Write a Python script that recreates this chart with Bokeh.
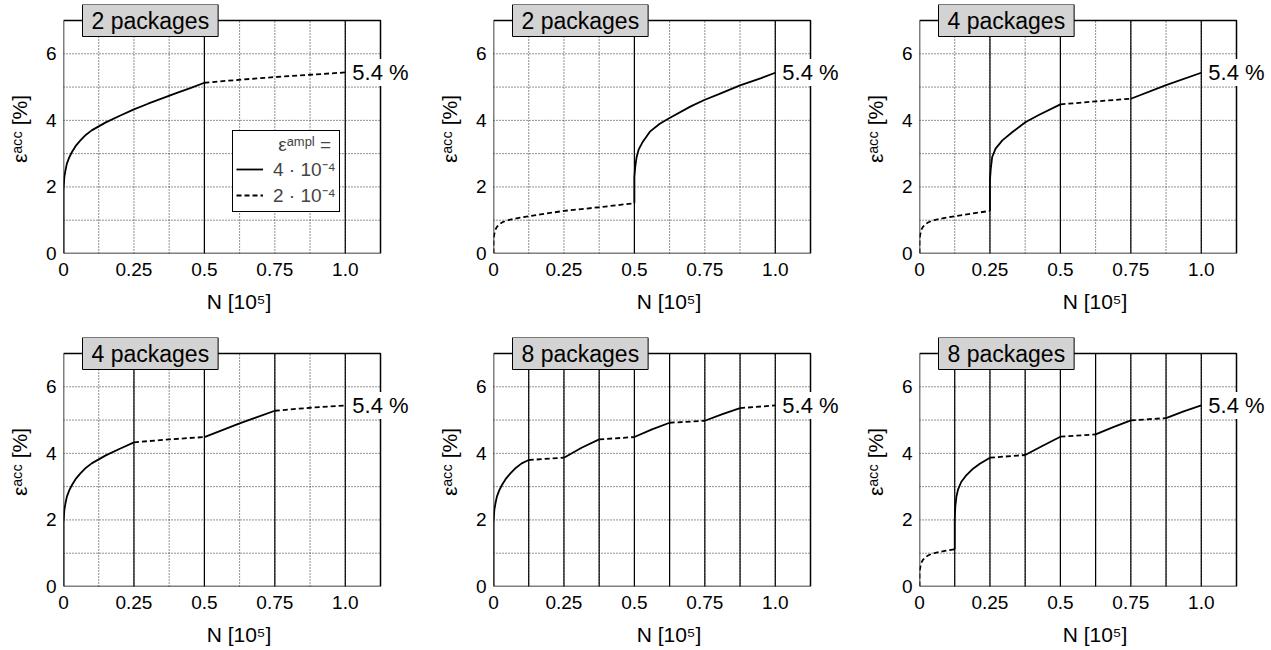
from bokeh.plotting import figure
from bokeh.layouts import column, row
from bokeh.models import Range1d, FixedTicker, Label, Legend, LegendItem, BoxAnnotation
from bokeh.embed import file_html
from bokeh.resources import INLINE

FONT = "Liberation Sans"

# ---------------- data ----------------
x_tick_values = [0, 0.25, 0.5, 0.75, 1.0]
x_tick_labels = ["0", "0.25", "0.5", "0.75", "1.0"]
y_tick_values = [0, 2, 4, 6]
x_max, y_max = 1.125, 7.0
end_label = "5.4 %"
end_n = 1.0
end_e = 5.44

# panel 1: 2 packages (high amplitude first)
p1_a_n = [0.0, 0.0, 0.003, 0.007, 0.012, 0.02, 0.03, 0.045, 0.06, 0.08, 0.1, 0.125, 0.15, 0.2, 0.25, 0.3, 0.35, 0.4, 0.45, 0.5]
p1_a_e = [0.0, 1.9, 2.3, 2.5, 2.7, 2.88, 3.05, 3.25, 3.4, 3.57, 3.7, 3.82, 3.94, 4.14, 4.33, 4.5, 4.66, 4.82, 4.97, 5.13]
p1_b_n = [0.5, 0.625, 0.75, 0.875, 1.0]
p1_b_e = [5.13, 5.22, 5.3, 5.37, 5.44]

# panel 2: 2 packages (low amplitude first)
p2_a_n = [0.0, 0.0, 0.002, 0.006, 0.012, 0.02, 0.03, 0.04, 0.06, 0.09, 0.125, 0.25, 0.375, 0.5]
p2_a_e = [0.0, 0.4, 0.55, 0.7, 0.8, 0.87, 0.93, 0.97, 1.02, 1.07, 1.12, 1.28, 1.39, 1.51]
p2_b_n = [0.5, 0.5, 0.503, 0.508, 0.515, 0.53, 0.555, 0.59, 0.625, 0.7, 0.75, 0.8, 0.875, 0.95, 1.0]
p2_b_e = [1.51, 2.3, 2.6, 2.9, 3.12, 3.36, 3.66, 3.9, 4.07, 4.42, 4.62, 4.79, 5.05, 5.27, 5.43]

# panel 3: 4 packages (low amplitude first)
p3_a_n = [0.0, 0.0, 0.002, 0.006, 0.012, 0.02, 0.03, 0.04, 0.06, 0.09, 0.125, 0.25]
p3_a_e = [0.0, 0.4, 0.55, 0.7, 0.8, 0.87, 0.93, 0.97, 1.02, 1.07, 1.12, 1.28]
p3_b_n = [0.25, 0.25, 0.253, 0.258, 0.27, 0.294, 0.33, 0.377, 0.425, 0.5]
p3_b_e = [1.28, 2.2, 2.55, 2.9, 3.15, 3.4, 3.65, 3.95, 4.17, 4.48]
p3_c_n = [0.5, 0.625, 0.75]
p3_c_e = [4.48, 4.57, 4.65]
p3_d_n = [0.75, 0.875, 1.0]
p3_d_e = [4.65, 5.06, 5.43]

# panel 4: 4 packages (high amplitude first)
p4_a_n = [0.0, 0.0, 0.003, 0.007, 0.012, 0.02, 0.03, 0.045, 0.06, 0.08, 0.1, 0.125, 0.15, 0.2, 0.25]
p4_a_e = [0.0, 1.9, 2.3, 2.5, 2.7, 2.88, 3.05, 3.25, 3.4, 3.57, 3.7, 3.82, 3.94, 4.14, 4.33]
p4_b_n = [0.25, 0.375, 0.5]
p4_b_e = [4.33, 4.42, 4.49]
p4_c_n = [0.5, 0.625, 0.75]
p4_c_e = [4.49, 4.9, 5.28]
p4_d_n = [0.75, 0.875, 1.0]
p4_d_e = [5.28, 5.37, 5.44]

# panel 5: 8 packages (high amplitude first)
p5_a_n = [0.0, 0.0, 0.003, 0.007, 0.012, 0.02, 0.03, 0.045, 0.06, 0.08, 0.1, 0.125]
p5_a_e = [0.0, 1.9, 2.3, 2.5, 2.7, 2.88, 3.05, 3.25, 3.4, 3.57, 3.7, 3.8]
p5_b_n = [0.125, 0.25]
p5_b_e = [3.8, 3.87]
p5_c_n = [0.25, 0.3125, 0.375]
p5_c_e = [3.87, 4.17, 4.42]
p5_d_n = [0.375, 0.5]
p5_d_e = [4.42, 4.49]
p5_e_n = [0.5, 0.5625, 0.625]
p5_e_e = [4.49, 4.72, 4.92]
p5_f_n = [0.625, 0.75]
p5_f_e = [4.92, 4.98]
p5_g_n = [0.75, 0.8125, 0.875]
p5_g_e = [4.98, 5.18, 5.36]
p5_h_n = [0.875, 1.0]
p5_h_e = [5.36, 5.44]

# panel 6: 8 packages (low amplitude first)
p6_a_n = [0.0, 0.0, 0.002, 0.006, 0.012, 0.02, 0.03, 0.04, 0.06, 0.09, 0.125]
p6_a_e = [0.0, 0.4, 0.55, 0.7, 0.8, 0.87, 0.93, 0.97, 1.02, 1.07, 1.12]
p6_b_n = [0.125, 0.125, 0.127, 0.131, 0.137, 0.148, 0.166, 0.19, 0.214, 0.25]
p6_b_e = [1.12, 2.0, 2.4, 2.7, 2.92, 3.14, 3.34, 3.54, 3.69, 3.87]
p6_c_n = [0.25, 0.375]
p6_c_e = [3.87, 3.95]
p6_d_n = [0.375, 0.4375, 0.5]
p6_d_e = [3.95, 4.23, 4.5]
p6_e_n = [0.5, 0.625]
p6_e_e = [4.5, 4.57]
p6_f_n = [0.625, 0.6875, 0.75]
p6_f_e = [4.57, 4.79, 4.99]
p6_g_n = [0.75, 0.875]
p6_g_e = [4.99, 5.06]
p6_h_n = [0.875, 0.9375, 1.0]
p6_h_e = [5.06, 5.26, 5.44]

titles = ["2 packages", "2 packages", "4 packages", "4 packages", "8 packages", "8 packages"]
bounds2 = [0.5, 1.0]
bounds4 = [0.25, 0.5, 0.75, 1.0]
bounds8 = [0.125, 0.25, 0.375, 0.5, 0.625, 0.75, 0.875, 1.0]

legend_title = "\u00a0" * 8 + "\u03b5\u1d43\u1d50\u1d56\u02e1 ="
legend_labels = ["4 \u00b7 10\u207b\u2074", "2 \u00b7 10\u207b\u2074"]

S, D = "solid", "dashed"
panels = [
    (titles[0], bounds2, [(p1_a_n, p1_a_e, S), (p1_b_n, p1_b_e, D)]),
    (titles[1], bounds2, [(p2_a_n, p2_a_e, D), (p2_b_n, p2_b_e, S)]),
    (titles[2], bounds4, [(p3_a_n, p3_a_e, D), (p3_b_n, p3_b_e, S), (p3_c_n, p3_c_e, D), (p3_d_n, p3_d_e, S)]),
    (titles[3], bounds4, [(p4_a_n, p4_a_e, S), (p4_b_n, p4_b_e, D), (p4_c_n, p4_c_e, S), (p4_d_n, p4_d_e, D)]),
    (titles[4], bounds8, [(p5_a_n, p5_a_e, S), (p5_b_n, p5_b_e, D), (p5_c_n, p5_c_e, S), (p5_d_n, p5_d_e, D),
                          (p5_e_n, p5_e_e, S), (p5_f_n, p5_f_e, D), (p5_g_n, p5_g_e, S), (p5_h_n, p5_h_e, D)]),
    (titles[5], bounds8, [(p6_a_n, p6_a_e, D), (p6_b_n, p6_b_e, S), (p6_c_n, p6_c_e, D), (p6_d_n, p6_d_e, S),
                          (p6_e_n, p6_e_e, D), (p6_f_n, p6_f_e, S), (p6_g_n, p6_g_e, D), (p6_h_n, p6_h_e, S)]),
]

# ---------------- layout ----------------
BOX_W, BOX_H = 317, 233          # visible plot box in px
EXT_R, EXT_T = 34, 16            # room for labels right of / above the box
FW, FH = BOX_W + EXT_R, BOX_H + EXT_T
left_borders = [63, 55, 55]
right_borders = [54 - EXT_R, 50 - EXT_R, 43 - EXT_R]
top_border = 20 - EXT_T
bottom_borders = [333 - top_border - FH, 60]

grid_x = [0.125 * k for k in range(1, 9)]
grid_y = [1, 2, 3, 4, 5, 6]

figs = []
for idx, (title, bounds, segs) in enumerate(panels):
    r, c = divmod(idx, 3)
    p = figure(frame_width=FW, frame_height=FH, output_backend="svg", toolbar_location=None,
               x_range=Range1d(0, x_max * FW / BOX_W), y_range=Range1d(0, y_max * FH / BOX_H),
               min_border_left=left_borders[c], min_border_right=right_borders[c],
               min_border_top=top_border, min_border_bottom=bottom_borders[r])
    p.background_fill_color = "white"
    p.border_fill_color = "white"
    p.outline_line_color = None
    p.xgrid.visible = False
    p.ygrid.visible = False

    # dotted grid inside the box
    p.segment(x0=grid_x, y0=[0] * len(grid_x), x1=grid_x, y1=[y_max] * len(grid_x),
              line_color="#222222", line_width=1, line_dash="1 2")
    p.segment(x0=[0] * len(grid_y), y0=grid_y, x1=[x_max] * len(grid_y), y1=grid_y,
              line_color="#222222", line_width=1, line_dash="1 2")

    # axes
    p.xaxis.ticker = FixedTicker(ticks=x_tick_values)
    p.xaxis.major_label_overrides = {v: s for v, s in zip(x_tick_values, x_tick_labels)}
    p.yaxis.ticker = FixedTicker(ticks=y_tick_values)
    p.xaxis.bounds = (0, x_max)
    p.yaxis.bounds = (0, y_max)
    p.xaxis.axis_label = "N [10\u2075]"
    p.yaxis.axis_label = "\u03b5\u1d43\u1d9c\u1d9c [%]"
    for ax in (p.xaxis, p.yaxis):
        ax.axis_line_color = None
        ax.major_tick_line_color = None
        ax.minor_tick_line_color = None
        ax.major_tick_out = 0
        ax.major_tick_in = 0
        ax.major_label_text_font = FONT
        ax.major_label_text_font_size = "19px"
        ax.major_label_text_color = "black"
        ax.axis_label_text_font = FONT
        ax.axis_label_text_font_size = "21px"
        ax.axis_label_text_font_style = "normal"
        ax.axis_label_text_color = "black"
    p.xaxis.major_label_standoff = 9
    p.xaxis.axis_label_standoff = 11
    p.yaxis.major_label_standoff = 7
    p.yaxis.axis_label_standoff = 12

    # package boundaries
    p.segment(x0=bounds, y0=[0] * len(bounds), x1=bounds, y1=[y_max] * len(bounds),
              line_color="black", line_width=1.2)

    # curves
    rend = {}
    for n, e, style in segs:
        if style == S:
            rr = p.line(n, e, line_color="black", line_width=1.8)
        else:
            rr = p.line(n, e, line_color="black", line_width=1.8, line_dash="5 3")
        rend.setdefault(style, rr)

    # plot box
    p.add_layout(BoxAnnotation(left=0, right=x_max, bottom=0, top=y_max, fill_alpha=0,
                               line_color="black", line_width=1.5, line_alpha=1))

    # end value label
    p.add_layout(Label(x=end_n, y=end_e, x_offset=6, text=end_label, text_font=FONT,
                       text_font_size="22px", text_baseline="middle", text_color="black",
                       background_fill_color="white", background_fill_alpha=1.0, padding=1))

    # title box
    p.add_layout(Label(x=19, y=BOX_H, x_units="screen", y_units="screen", text=title,
                       text_font=FONT, text_font_size="23px", text_baseline="middle",
                       text_color="black", background_fill_color="#d3d3d3",
                       border_line_color="black", border_line_width=1, padding=(9, 3)))

    if idx == 0:
        leg = Legend(items=[LegendItem(label=legend_labels[0], renderers=[rend[S]]),
                            LegendItem(label=legend_labels[1], renderers=[rend[D]])],
                     location=(169, 41), title=legend_title)
        leg.title_text_font = FONT
        leg.title_text_font_size = "19px"
        leg.title_text_font_style = "normal"
        leg.title_standoff = 0
        leg.label_text_font = FONT
        leg.label_text_font_size = "19px"
        leg.border_line_color = "black"
        leg.border_line_width = 1
        leg.border_line_alpha = 1
        leg.background_fill_color = "white"
        leg.background_fill_alpha = 1
        leg.glyph_width = 27
        leg.glyph_height = 16
        leg.label_height = 16
        leg.label_standoff = 10
        leg.spacing = 0
        leg.padding = 3
        leg.margin = 0
        p.add_layout(leg, "center")
    figs.append(p)

layout = column(row(figs[0], figs[1], figs[2]), row(figs[3], figs[4], figs[5]))
open("out.html", "w").write(file_html(layout, INLINE))
